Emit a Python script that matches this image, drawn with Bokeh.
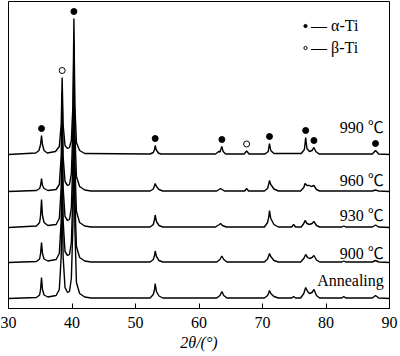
from bokeh.plotting import figure
from bokeh.models import Range1d, FixedTicker, Legend, LegendItem
from bokeh.core.properties import value
from bokeh.embed import file_html
from bokeh.resources import INLINE

# ---------------- data ----------------
x_ticks = [30, 40, 50, 60, 70, 80, 90]
x_title = "2θ/(°)"
sample_names = ["Annealing", "900 ℃", "930 ℃", "960 ℃", "990 ℃"]

# (2theta, relative intensity) vertices of each pattern, bottom to top
trace_annealing = [(30, 0), (34.4, 1), (34.9, 3.5), (35.05, 9), (35.2, 21), (35.35, 9), (35.6, 3.5), (36.2, 1.5),
                   (37.5, 3), (38.0, 9), (38.3, 42), (38.45, 120), (38.6, 42), (38.9, 11), (39.3, 6), (39.6, 7),
                   (39.9, 20), (40.15, 75), (40.3, 180), (40.45, 70), (40.7, 16), (41.2, 5), (42, 1.5), (43, 0.5),
                   (52.3, 0.5), (52.8, 4), (53.0, 9), (53.1, 15), (53.3, 7), (53.7, 2.5), (54.3, 0.5),
                   (62.8, 0.5), (63.3, 3), (63.6, 7), (63.9, 3), (64.4, 0.5),
                   (70.3, 0.5), (70.8, 3), (71.0, 6), (71.1, 8), (71.3, 5), (71.8, 2), (72.5, 0.5),
                   (74.6, 0.5), (74.9, 2), (75.2, 0.5),
                   (76.0, 0.5), (76.5, 5), (76.8, 11), (77.1, 7), (77.4, 5), (77.8, 6), (78.1, 9), (78.5, 3), (79.0, 0.5),
                   (82.5, 0.5), (82.8, 2), (83.1, 0.5), (87.3, 0.5), (87.8, 3), (88.3, 0.5), (90, 0)]
trace_900 = [(30, 0), (34.4, 1), (34.9, 3.5), (35.05, 9), (35.2, 20), (35.35, 9), (35.6, 3.5), (36.2, 1.5),
             (37.5, 3), (38.0, 9), (38.3, 42), (38.45, 120), (38.6, 42), (38.9, 11), (39.3, 7), (39.6, 8),
             (39.9, 20), (40.15, 70), (40.3, 170), (40.45, 65), (40.7, 16), (41.2, 5), (42, 1.5), (43, 0.5),
             (52.3, 0.5), (52.8, 3), (53.0, 7), (53.1, 11.5), (53.3, 6), (53.7, 2), (54.3, 0.5),
             (62.8, 0.5), (63.3, 3), (63.6, 6.5), (63.9, 3), (64.4, 0.5),
             (70.3, 0.5), (70.8, 3.5), (71.0, 7), (71.1, 9), (71.3, 6), (71.8, 2), (72.5, 0.5),
             (76.0, 0.5), (76.5, 4), (76.8, 8), (77.1, 5), (77.4, 4), (77.8, 5), (78.1, 7), (78.5, 2.5), (79.0, 0.5),
             (82.5, 0.5), (82.8, 1.5), (83.1, 0.5), (87.3, 0.5), (87.8, 2), (88.3, 0.5), (90, 0)]
trace_930 = [(30, 0), (34.4, 1.5), (34.9, 5), (35.05, 12), (35.2, 28), (35.35, 12), (35.6, 5), (36.2, 2),
             (37.5, 3), (38.0, 9), (38.3, 40), (38.45, 110), (38.6, 40), (38.9, 11), (39.3, 7), (39.6, 8),
             (39.9, 20), (40.15, 70), (40.3, 170), (40.45, 65), (40.7, 16), (41.2, 5), (42, 1.5), (43, 0.5),
             (52.3, 0.5), (52.8, 3), (53.0, 8), (53.1, 12.5), (53.3, 6), (53.7, 2), (54.3, 0.5),
             (62.6, 0.5), (63.2, 3), (63.4, 4), (63.7, 2), (64.3, 0.5),
             (70.3, 0.5), (70.8, 5), (71.0, 11), (71.1, 17), (71.3, 9), (71.8, 3), (72.5, 0.5),
             (74.6, 0.5), (74.9, 3), (75.2, 0.5),
             (76.1, 0.5), (76.5, 4), (76.7, 7), (77.0, 4), (77.4, 3), (77.8, 4), (78.1, 6), (78.5, 2), (79.0, 0.5),
             (82.5, 0.5), (82.8, 1.5), (83.1, 0.5), (87.3, 0.5), (87.8, 2.5), (88.3, 0.5), (90, 0)]
trace_960 = [(30, 0), (34.4, 1), (34.9, 3), (35.05, 6), (35.2, 13), (35.35, 6), (35.6, 3), (36.2, 1),
             (37.5, 2), (38.0, 7), (38.3, 35), (38.45, 100), (38.6, 35), (38.9, 10), (39.3, 6), (39.6, 7),
             (39.9, 18), (40.15, 65), (40.3, 150), (40.45, 60), (40.7, 15), (41.2, 5), (42, 1.5), (43, 0.5),
             (52.3, 0.5), (52.8, 2.5), (53.0, 6), (53.1, 8), (53.3, 5), (53.7, 2), (54.3, 0.5),
             (62.8, 0.5), (63.4, 3), (64.0, 0.5), (67.2, 0.5), (67.5, 3), (67.8, 0.5),
             (70.3, 0.5), (70.8, 3), (71.0, 8), (71.1, 11), (71.3, 7), (71.8, 2.5), (72.5, 0.5),
             (76.0, 0.5), (76.5, 4), (76.7, 8), (77.0, 6), (77.4, 6), (77.7, 5), (78.1, 6), (78.5, 2), (79.0, 0.5),
             (87.3, 0.5), (87.8, 1.5), (88.3, 0.5), (90, 0)]
trace_990 = [(30, 0), (34.3, 1.5), (34.8, 4), (35.05, 10), (35.2, 19), (35.35, 10), (35.6, 4), (36.1, 1.5),
             (37.4, 3), (38.0, 8), (38.3, 30), (38.45, 77), (38.6, 30), (38.9, 9), (39.3, 6), (39.6, 7),
             (39.9, 14), (40.15, 50), (40.3, 136), (40.45, 50), (40.7, 12), (41.2, 4), (42.0, 1),
             (52.3, 0.5), (52.8, 2), (53.0, 5), (53.1, 9), (53.25, 5), (53.6, 1.5), (54.0, 0.5),
             (62.6, 0.5), (63.1, 3), (63.3, 2.5), (63.6, 8), (63.8, 3), (64.2, 0.5),
             (67.1, 0.5), (67.5, 3.5), (67.9, 0.5),
             (70.4, 0.5), (70.9, 3), (71.1, 11), (71.3, 4), (71.8, 1),
             (76.1, 1), (76.6, 5), (76.8, 17), (77.0, 6), (77.4, 3), (77.8, 4), (78.1, 7), (78.4, 3), (78.9, 0.5),
             (87.3, 0.5), (87.8, 4), (88.3, 0.5), (90, 0)]
traces = [trace_annealing, trace_900, trace_930, trace_960, trace_990]

# phase marks on the 990 ℃ pattern
alpha_2theta = [35.2, 40.3, 53.1, 63.6, 71.1, 76.8, 78.1, 87.8]
alpha_intensity = [19, 136, 9, 8, 11, 17, 7, 4]
beta_2theta = [38.45, 67.5]
beta_intensity = [77, 3.5]
legend_labels = ["—\u00a0α-Ti", "—\u00a0β-Ti"]

# ---------------- layout / style ----------------
offsets = [10, 46, 81, 117, 154]      # vertical stacking of the patterns
label_gaps = [18, 9, 12, 11, 27]
mark_gap = 7
SERIF = "Liberation Serif"
CEL_FONT = "'Liberation Serif', 'Noto Sans CJK SC', serif"

p = figure(width=400, height=356, output_backend="svg", toolbar_location=None,
           x_range=Range1d(30, 90), y_range=Range1d(0, 307),
           y_axis_location=None, min_border_left=8, min_border_right=11,
           min_border_top=1, min_border_bottom=48)
p.grid.visible = False
p.outline_line_color = "black"
p.outline_line_width = 1
p.background_fill_color = "white"
p.border_fill_color = "white"

for tr, off in zip(traces, offsets):
    xs = [a for a, b in tr]
    ys = [b + off for a, b in tr]
    p.line(xs, ys, line_color="black", line_width=1.4)

top = offsets[-1]
ra = p.scatter(alpha_2theta, [v + top + mark_gap for v in alpha_intensity], marker="circle",
               size=6, fill_color="black", line_color="black")
rb = p.scatter(beta_2theta, [v + top + mark_gap for v in beta_intensity], marker="circle",
               size=6, fill_color="white", line_color="black", line_width=1)

p.text(x=[89.1] * len(sample_names), y=[o + g for o, g in zip(offsets, label_gaps)], text=sample_names,
       text_align="right", text_baseline="alphabetic", text_font=value(CEL_FONT),
       text_font_size="16px", text_color="black")

legend = Legend(items=[LegendItem(label=legend_labels[0], renderers=[ra]),
                       LegendItem(label=legend_labels[1], renderers=[rb])],
                location=(293, 251), border_line_color=None, background_fill_alpha=0,
                padding=0, margin=0, glyph_width=8, glyph_height=19, label_height=19,
                spacing=3, label_standoff=2, label_text_font=SERIF, label_text_font_size="16px",
                label_text_color="black")
p.add_layout(legend)

ax = p.xaxis[0]
ax.ticker = FixedTicker(ticks=x_ticks)
ax.minor_tick_line_color = None
ax.major_tick_in = 5
ax.major_tick_out = 0
ax.axis_line_color = "black"
ax.major_tick_line_color = "black"
ax.major_label_text_font = SERIF
ax.major_label_text_font_size = "16px"
ax.major_label_text_color = "black"
ax.major_label_standoff = 8
ax.axis_label = x_title
ax.axis_label_text_font = SERIF
ax.axis_label_text_font_size = "16px"
ax.axis_label_text_font_style = "italic"
ax.axis_label_text_color = "black"
ax.axis_label_standoff = 3

open("out.html", "w").write(file_html(p, INLINE))
